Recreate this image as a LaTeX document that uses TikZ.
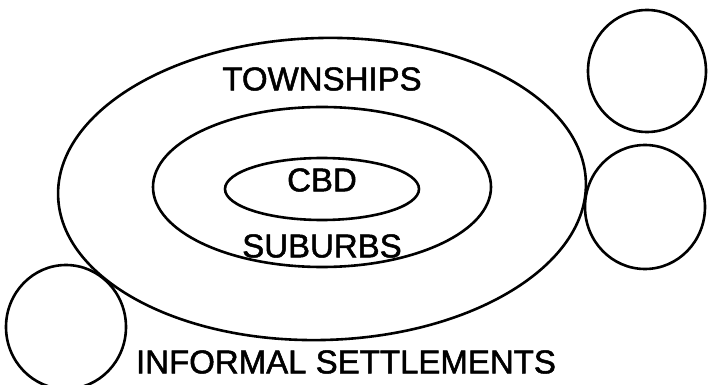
\documentclass[tikz,border=0pt]{standalone}
\usepackage{fontspec}
\setmainfont{Liberation Sans}
\newfontfamily\lblfont[FakeBold=1.5]{Liberation Sans}
\usetikzlibrary{shapes.geometric}

\begin{document}
\begin{tikzpicture}[
    x=1pt, y=-1pt,
    zone/.style={draw, ellipse, line width=2.6pt, inner sep=0pt},
    lbl/.style={font=\lblfont\fontsize{33}{36}\selectfont, inner sep=0pt},
]
\useasboundingbox (0,0) rectangle (713,385);

% city rings
\node[zone, minimum width=528, minimum height=302, rotate=1.5] (townships) at (322,189) {};
\node[zone, minimum width=338, minimum height=160] (suburbs) at (322,187) {};
\node[zone, minimum width=194, minimum height=62] (cbd) at (322,189) {};

% outlying settlements
\node[zone, minimum width=118, minimum height=122] (topright) at (647,71) {};
\node[zone, minimum width=120, minimum height=124] (right) at (645,207) {};
\node[zone, minimum width=120, minimum height=124] (botleft) at (66,327) {};

% labels
\node[lbl] (townshipstxt) at (322,79) {TOWNSHIPS};
\node[lbl] (cbdtxt) at (322,180) {CBD};
\node[lbl] (suburbstxt) at (322,246) {SUBURBS};
\node[lbl] (informaltxt) at (346,362) {INFORMAL SETTLEMENTS};

\end{tikzpicture}
\end{document}
